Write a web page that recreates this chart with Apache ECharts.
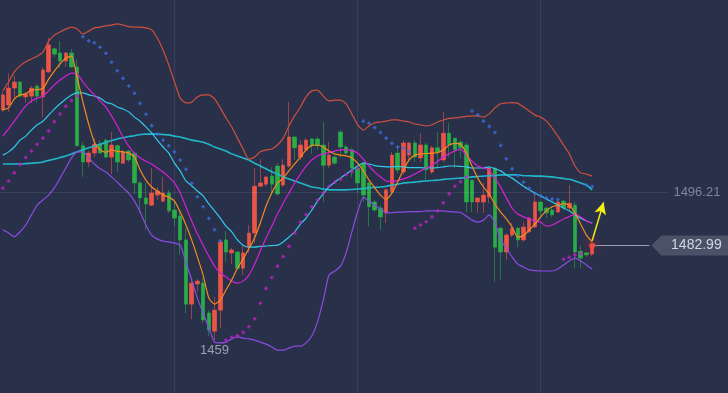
<!DOCTYPE html>
<html><head><meta charset="utf-8">
<script src="https://cdn.jsdelivr.net/npm/echarts@6/dist/echarts.min.js"></script>
<style>html,body{margin:0;padding:0;background:#29314a;}#c{width:728px;height:393px;}</style>
</head><body><div id="c"></div>
<script>
// ---- candle data (open / close / low / high) ----
const opens = [
1516.6,1517.8,1522.0,1523.5,1519.8,1520.0,1522.5,1519.8,1526.0,1531.7,
1530.7,1528.7,1530.7,1527.2,1507.7,1503.7,1505.9,1508.1,1509.1,1504.9,
1507.7,1503.4,1506.4,1505.9,1498.5,1494.8,1493.0,1495.5,1494.0,1496.0,
1491.8,1490.3,1484.4,1468.5,1473.5,1473.7,1466.3,1461.8,1467.0,1484.4,
1481.2,1481.4,1477.4,1482.6,1486.1,1497.7,1498.2,1500.2,1502.7,1498.0,
1502.7,1509.9,1504.9,1506.7,1509.4,1509.4,1507.9,1502.9,1504.9,1511.1,
1507.4,1506.7,1502.2,1503.4,1498.5,1493.8,1492.3,1491.1,1496.3,1505.9,
1501.2,1505.4,1508.4,1504.7,1507.9,1501.2,1507.2,1504.2,1510.8,1509.6,
1508.6,1507.9,1499.2,1493.8,1493.8,1495.0,1502.2,1487.3,1481.4,1485.6,
1487.3,1484.4,1486.4,1487.6,1493.8,1492.3,1491.8,1491.3,1494.0,1492.3,
1493.0,1481.6,1481.2,1480.9];
const closes = [
1520.3,1522.0,1523.5,1520.0,1520.5,1522.0,1520.0,1526.5,1532.7,1530.4,
1528.7,1530.7,1527.2,1507.7,1503.7,1505.9,1508.1,1505.9,1504.9,1507.9,
1503.7,1506.2,1504.2,1498.5,1494.8,1493.3,1496.0,1496.5,1496.0,1491.6,
1489.8,1484.4,1468.5,1473.7,1474.2,1464.6,1462.1,1467.0,1483.9,1481.4,
1481.9,1477.4,1481.2,1486.1,1497.7,1498.5,1500.0,1498.2,1495.8,1502.9,
1509.9,1507.2,1507.9,1509.1,1507.7,1507.7,1502.9,1505.4,1503.4,1507.4,
1505.9,1502.2,1498.5,1495.5,1492.6,1491.8,1490.1,1496.8,1505.4,1501.7,
1508.4,1508.4,1504.9,1507.9,1501.7,1507.2,1506.2,1510.8,1507.9,1506.7,
1507.2,1493.8,1493.8,1494.8,1495.5,1502.2,1482.6,1481.4,1485.6,1487.3,
1484.4,1487.6,1489.8,1493.8,1491.6,1491.1,1490.6,1493.8,1492.3,1493.5,
1481.4,1479.9,1480.7,1482.99];
const lows = [
1516.1,1516.1,1519.5,1519.8,1518.5,1518.3,1518.5,1514.8,1525.7,1529.7,
1527.0,1527.2,1527.0,1507.7,1500.0,1502.5,1504.9,1505.9,1504.7,1500.7,
1501.2,1503.2,1503.7,1495.8,1491.1,1486.9,1492.8,1494.3,1493.8,1491.1,
1487.8,1480.7,1466.3,1464.8,1471.7,1463.8,1460.6,1459.6,1462.6,1478.9,
1478.4,1476.9,1475.7,1481.2,1483.6,1497.5,1497.7,1496.0,1495.3,1497.5,
1502.2,1504.2,1504.2,1506.2,1505.7,1506.7,1493.8,1502.2,1502.9,1504.7,
1505.4,1500.0,1496.0,1493.8,1487.8,1491.3,1486.9,1488.6,1496.0,1500.9,
1500.5,1504.2,1503.7,1503.7,1499.2,1500.7,1502.4,1503.7,1504.9,1502.2,
1504.7,1491.3,1491.3,1491.1,1491.1,1493.5,1474.0,1474.5,1479.4,1485.1,
1482.6,1483.9,1486.1,1487.3,1490.1,1489.8,1490.1,1491.1,1491.8,1491.8,
1477.4,1477.4,1480.2,1480.4];
const highs = [
1521.0,1525.7,1525.0,1523.7,1521.0,1522.5,1522.8,1527.2,1534.4,1531.9,
1533.6,1530.9,1531.7,1529.2,1508.6,1506.4,1509.6,1509.1,1509.4,1511.1,
1508.1,1506.7,1506.7,1506.2,1499.0,1498.5,1502.2,1497.5,1500.0,1496.8,
1493.8,1491.6,1487.3,1475.2,1474.7,1475.0,1467.0,1470.3,1484.4,1486.6,
1482.4,1481.6,1483.1,1488.1,1502.2,1504.4,1500.2,1502.4,1503.4,1504.4,
1518.5,1509.9,1509.1,1509.6,1509.6,1509.9,1513.6,1508.6,1505.4,1511.6,
1507.9,1507.2,1502.4,1503.7,1498.8,1494.3,1493.0,1497.3,1506.2,1507.9,
1509.1,1508.6,1509.1,1510.8,1508.4,1507.7,1511.1,1516.1,1513.3,1509.6,
1509.1,1508.4,1499.2,1494.8,1498.5,1502.4,1502.4,1487.6,1486.1,1488.6,
1487.6,1488.8,1490.1,1496.0,1493.8,1492.6,1492.6,1494.3,1494.3,1498.0,
1493.8,1482.9,1481.4,1483.6];

// ---- indicator lines ----
const bollUpper = [
1521.3,1523.5,1526.0,1527.5,1528.5,1529.2,1529.9,1530.9,1533.6,1535.1,
1535.9,1536.6,1537.1,1536.6,1535.4,1536.1,1536.9,1537.1,1537.4,1537.6,
1537.9,1537.6,1537.2,1537.1,1537.1,1536.9,1536.4,1534.4,1531.4,1527.7,
1523.5,1519.5,1518.3,1518.5,1519.8,1520.3,1520.3,1519.3,1517.1,1514.6,
1512.4,1509.6,1506.9,1504.4,1504.9,1506.2,1506.7,1506.9,1507.9,1509.6,
1512.6,1515.1,1517.3,1519.8,1521.3,1521.5,1520.0,1518.8,1519.0,1519.0,
1518.1,1515.6,1512.9,1511.6,1512.6,1513.4,1513.6,1513.8,1514.1,1514.1,
1513.8,1513.6,1513.1,1512.9,1512.6,1512.9,1513.6,1514.1,1514.5,1514.6,
1514.8,1515.0,1515.1,1515.1,1514.8,1515.6,1517.1,1518.1,1518.3,1518.4,
1518.2,1517.3,1516.3,1515.3,1514.8,1513.8,1512.1,1510.1,1507.9,1505.7,
1502.7,1501.0,1500.7,1500.2];
const bollLower = [
1486.9,1486.1,1485.2,1486.4,1488.1,1490.6,1493.0,1494.3,1495.5,1497.3,
1499.7,1502.2,1504.7,1506.2,1506.2,1504.7,1503.2,1502.0,1501.2,1500.0,
1498.7,1497.3,1496.0,1494.0,1491.3,1488.1,1485.6,1484.6,1484.1,1483.9,
1483.6,1483.1,1478.9,1474.5,1470.0,1466.3,1462.6,1459.1,1458.9,1459.1,
1459.9,1460.4,1460.1,1459.9,1459.6,1459.1,1458.6,1457.9,1457.1,1457.1,
1457.6,1458.1,1458.1,1458.9,1460.6,1464.1,1469.5,1475.7,1476.7,1477.9,
1481.2,1486.4,1491.3,1495.0,1494.0,1493.0,1492.1,1491.1,1491.1,1491.3,
1491.3,1491.4,1491.4,1491.4,1491.6,1491.6,1491.6,1491.6,1491.4,1491.3,
1491.2,1490.3,1489.3,1488.8,1489.3,1490.6,1488.8,1484.4,1482.4,1480.2,
1478.4,1477.7,1477.0,1476.8,1476.7,1476.7,1476.7,1477.2,1478.2,1479.2,
1479.9,1479.2,1478.2,1477.2];
const bollMid = [
1505.4,1506.2,1507.4,1509.1,1510.1,1511.6,1512.9,1513.8,1515.3,1516.8,
1518.1,1519.3,1520.3,1520.8,1520.8,1520.3,1520.0,1519.5,1518.5,1518.1,
1517.3,1516.8,1516.1,1514.8,1513.8,1512.4,1510.9,1509.1,1507.4,1505.9,
1503.4,1501.5,1499.0,1497.8,1496.5,1495.3,1493.3,1491.6,1489.8,1487.8,
1486.4,1484.4,1483.1,1482.6,1482.6,1482.8,1482.9,1483.0,1483.1,1483.9,
1485.1,1486.4,1488.3,1489.8,1491.8,1494.0,1495.8,1497.5,1498.7,1499.7,
1500.7,1501.7,1502.7,1503.4,1503.2,1502.8,1502.6,1502.5,1502.5,1502.6,
1502.5,1502.3,1502.3,1502.3,1502.2,1502.2,1502.3,1502.5,1502.7,1502.7,
1502.6,1502.5,1502.2,1502.2,1502.2,1502.5,1502.0,1501.5,1500.5,1499.7,
1498.7,1497.7,1496.8,1496.0,1495.3,1494.5,1493.8,1493.0,1492.3,1491.6,
1490.6,1489.8,1489.1,1488.6];
const ma60 = [
1503.2,1503.2,1503.2,1503.2,1503.3,1503.4,1503.5,1503.7,1504.1,1504.4,
1504.8,1505.2,1505.7,1506.2,1506.7,1507.2,1507.6,1508.1,1508.5,1509.0,
1509.4,1509.7,1510.0,1510.2,1510.5,1510.6,1510.6,1510.6,1510.5,1510.4,
1510.1,1509.9,1509.5,1509.1,1508.9,1508.6,1508.1,1507.4,1506.9,1506.4,
1505.7,1505.2,1504.7,1504.2,1503.4,1502.7,1502.0,1501.3,1500.7,1500.0,
1499.5,1499.0,1498.5,1498.0,1497.5,1497.3,1497.0,1496.8,1496.8,1496.8,
1496.8,1496.9,1497.0,1497.1,1497.3,1497.4,1497.5,1497.7,1498.0,1498.2,
1498.5,1498.6,1498.7,1498.9,1499.0,1499.1,1499.2,1499.4,1499.5,1499.6,
1499.7,1499.8,1500.0,1500.1,1500.2,1500.3,1500.3,1500.5,1500.5,1500.5,
1500.5,1500.3,1500.3,1500.2,1500.2,1500.1,1500.0,1499.8,1499.6,1499.4,
1499.0,1498.5,1498.0,1496.8];
const ma5 = [
1516.6,1517.1,1519.3,1520.3,1520.6,1521.5,1521.6,1521.9,1524.2,1526.2,
1528.0,1529.4,1529.9,1524.5,1518.5,1513.1,1508.6,1506.7,1506.1,1506.7,
1506.3,1506.2,1505.9,1504.9,1501.7,1499.2,1497.5,1496.5,1495.5,1495.0,
1494.0,1491.3,1488.1,1484.4,1480.2,1475.7,1470.0,1468.5,1469.5,1472.0,
1474.5,1477.4,1479.7,1482.2,1484.9,1488.6,1492.8,1496.0,1498.5,1499.7,
1501.5,1503.2,1504.9,1506.7,1507.8,1507.9,1507.4,1506.4,1505.7,1505.4,
1505.2,1504.7,1503.4,1501.5,1499.2,1497.3,1495.5,1494.5,1496.0,1498.7,
1501.7,1504.2,1505.4,1505.7,1505.8,1505.9,1506.0,1506.7,1507.9,1508.3,
1508.1,1505.9,1502.7,1499.7,1497.5,1495.8,1493.3,1491.3,1489.6,1487.6,
1485.1,1485.4,1486.9,1488.3,1490.1,1491.6,1492.6,1493.0,1493.3,1493.0,
1491.1,1488.3,1485.6,1483.9];
const ma10 = [
1510.1,1511.9,1513.8,1515.8,1517.6,1518.8,1519.5,1520.0,1521.3,1522.8,
1524.0,1525.0,1525.7,1525.5,1523.5,1521.8,1520.3,1518.8,1517.3,1515.1,
1512.6,1509.9,1507.6,1505.9,1504.7,1503.9,1503.2,1502.2,1501.2,1500.0,
1498.5,1496.0,1492.6,1489.1,1485.9,1483.1,1480.4,1477.9,1476.2,1475.2,
1474.2,1473.7,1474.2,1475.7,1478.4,1481.7,1484.9,1487.8,1490.8,1493.5,
1496.0,1498.5,1500.7,1502.7,1504.2,1505.2,1505.7,1506.0,1506.4,1506.7,
1506.7,1506.5,1505.9,1504.4,1502.7,1501.2,1500.0,1499.0,1498.9,1499.1,
1499.5,1500.0,1500.7,1501.5,1502.2,1502.9,1503.9,1504.9,1505.7,1506.4,
1506.9,1505.4,1503.9,1502.7,1502.2,1501.7,1499.7,1497.5,1494.8,1492.3,
1490.8,1490.1,1489.6,1489.1,1488.8,1487.8,1488.1,1488.8,1489.6,1490.2,
1490.8,1490.1,1489.1,1488.5];
// parabolic SAR values and the index ranges where it sits above price
const sar = [
1497.2,1499.0,1501.0,1503.1,1504.8,1506.4,1508.1,1509.6,1511.4,1513.7,1515.6,1517.5,1518.9,1520.0,
1534.7,1533.7,1533.2,1532.1,1530.6,1528.4,1526.3,1524.4,1522.5,1520.7,1518.2,1515.5,1512.7,1510.6,
1509.1,1507.7,1506.2,1504.2,1501.9,1498.4,1495.1,1492.6,1489.7,1486.9,1484.2,
1459.6,1460.3,1460.7,1461.5,1462.9,1464.9,1468.7,1472.4,1475.1,1477.9,1480.3,1482.8,1486.2,1488.8,
1490.7,1492.6,1494.3,1496.0,1497.7,1498.7,1499.4,1500.6,1501.3,1502.1,
1513.8,1513.3,1512.2,1511.0,1509.6,1508.3,1507.4,1507.1,1506.3,
1487.3,1488.1,1488.9,1490.1,1491.6,1493.6,1495.8,1497.7,1498.8,1499.9,
1516.3,1515.4,1513.8,1512.5,1511.0,1507.8,1504.5,1502.0,1500.3,1498.7,1497.2,1495.9,1495.3,1494.8,1494.5,1494.4,
1479.6,1480.1,1480.7,1481.0,
1498.0,1497.6];
const sarAboveRanges = [[14,38],[63,71],[82,97],[102,103]];

// ---- reference levels ----
const refLevel = 1496.21;
const forecast = [1484.2, 1493.7];   // yellow arrow start / end values
const slotCount = 117;               // candles + empty future slots
const forecastSteps = 2;
const tagSlot = 113;

const categories = [];
for (let i = 0; i < slotCount; i++) categories.push('T' + (i + 1));

const n = closes.length;
const lastClose = closes[n - 1];
const ohlc = opens.map((o, i) => [o, closes[i], lows[i], highs[i]]);
const bodies = opens.map((o, i) => [o, closes[i], Math.min(o, closes[i]), Math.max(o, closes[i])]);
const isAbove = i => sarAboveRanges.some(r => i >= r[0] && i <= r[1]);
const sarAbove = sar.map((v, i) => isAbove(i) ? v : '-');
const sarBelow = sar.map((v, i) => isAbove(i) ? '-' : v);

const FONT = "'Liberation Sans', Arial, sans-serif";
const blob = 'path://M2,0h3v2h2v3h-2v2h-3v-2h-2v-3h2z';

function lineSeries(name, data, color, width) {
  return { name, type: 'line', data, symbol: 'none', smooth: 0.2,
    lineStyle: { color, width }, itemStyle: { color }, z: 3 };
}

const chart = echarts.init(document.getElementById('c'));
const orange = lineSeries('MA5', ma5, '#f58a1f', 1.2);
orange.clip = false;
orange.markLine = {
  silent: true, symbol: ['none', 'none'], animation: false,
  label: { show: false },
  data: [
    { yAxis: refLevel, lineStyle: { color: 'rgba(255,255,255,0.08)', width: 1, type: 'solid' },
      label: { show: true, position: 'end', distance: 4, formatter: refLevel.toFixed(2),
        color: '#7f8699', fontSize: 13, fontFamily: FONT } },
    [ { coord: [n - 1, lastClose], lineStyle: { color: '#9aa0ae', width: 1, type: 'solid' } },
      { coord: [tagSlot, lastClose] } ],
    [ { coord: [n - 1, forecast[0]], lineStyle: { color: '#f5f011', width: 1.5, type: 'solid' } },
      { coord: [n - 1 + forecastSteps, forecast[1]], symbol: 'arrow', symbolSize: [9, 12] } ]
  ]
};
orange.markPoint = {
  silent: true, animation: false,
  data: [
    { coord: [n - 1, lastClose], symbol: 'circle', symbolSize: 6,
      itemStyle: { color: 'rgba(255,70,60,0.85)', shadowBlur: 12, shadowColor: 'rgba(255,40,40,1)' },
      label: { show: false } },
    { coord: [tagSlot, lastClose], symbol: 'path://M0,10L10,0L80,0L80,20L10,20Z',
      symbolSize: [80, 20], symbolKeepAspect: false, symbolOffset: [42, 0],
      itemStyle: { color: '#4a5268' },
      label: { show: true, position: 'inside', offset: [5, 0], formatter: lastClose.toFixed(2),
        color: '#d3d6de', fontSize: 14, fontFamily: FONT } }
  ]
};

const option = {
  backgroundColor: '#29314a',
  animation: false,
  grid: { left: -1.87, right: 58.6, top: 0, bottom: 0 },
  xAxis: {
    type: 'category', data: categories, boundaryGap: true,
    axisLine: { show: false }, axisTick: { show: false }, axisLabel: { show: false },
    splitLine: { show: true, alignWithLabel: true, interval: (idx) => idx % 32 === 30,
      lineStyle: { color: 'rgba(255,255,255,0.07)', width: 1 } }
  },
  yAxis: {
    type: 'value', min: 1446.5, max: 1543.8,
    axisLine: { show: false }, axisTick: { show: false }, axisLabel: { show: false },
    splitLine: { show: false }
  },
  series: [
    { name: 'wick', type: 'candlestick', data: ohlc, barWidth: 4, z: 2,
      itemStyle: { color: 'rgba(235,85,70,0.5)', color0: 'rgba(40,175,70,0.5)',
        borderColor: 'rgba(235,85,70,0.55)', borderColor0: 'rgba(40,175,70,0.55)', borderWidth: 1 },
      markPoint: { silent: true, animation: false,
        data: [{ type: 'min', valueDim: 'lowest' }],
        symbol: 'circle', symbolSize: 1, itemStyle: { color: 'rgba(0,0,0,0)' },
        label: { show: true, position: 'bottom', distance: 3,
          formatter: p => String(Math.floor(p.value)), color: '#9ca1ae', fontSize: 13, fontFamily: FONT } } },
    { name: 'body', type: 'candlestick', data: bodies, barWidth: 4, z: 2,
      itemStyle: { color: '#eb5546', color0: '#29ad47', borderColor: '#eb5546', borderColor0: '#29ad47', borderWidth: 0 } },
    lineSeries('MA60', ma60, '#22b6cb', 1.6),
    lineSeries('MID', bollMid, '#33c9ea', 1.2),
    lineSeries('UPPER', bollUpper, '#cf4f3c', 1.2),
    lineSeries('LOWER', bollLower, '#8c4ae3', 1.2),
    lineSeries('MA10', ma10, '#d420d6', 1.2),
    orange,
    { name: 'SAR up', type: 'scatter', data: sarAbove, symbol: blob, symbolSize: 3.6, z: 4,
      itemStyle: { color: '#3b6ee0' } },
    { name: 'SAR down', type: 'scatter', data: sarBelow, symbol: blob, symbolSize: 3.6, z: 4,
      itemStyle: { color: '#c51fc9' } }
  ]
};
chart.setOption(option);
</script>
</body></html>
